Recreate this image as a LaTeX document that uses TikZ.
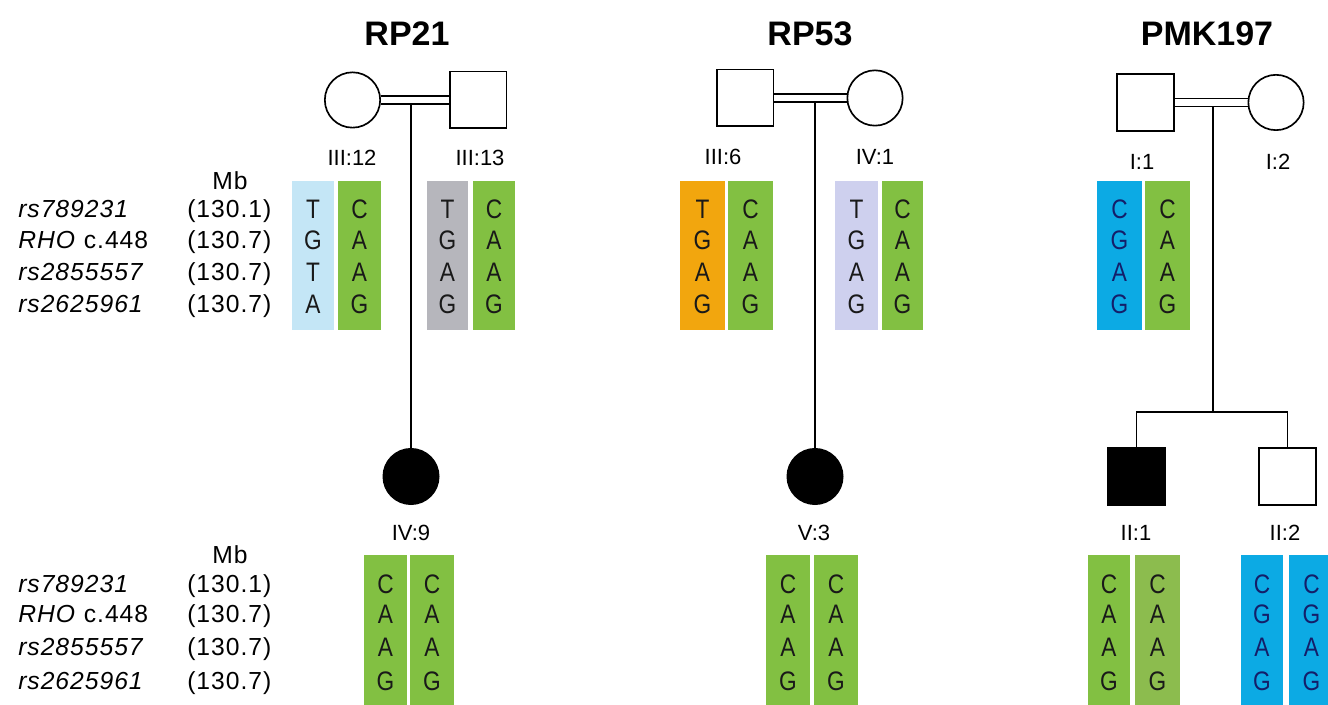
\documentclass[tikz,border=0pt]{standalone}
\usepackage{fontspec}
\setmainfont{Liberation Sans}
\definecolor{hapgreen}{RGB}{130,192,66}
\definecolor{hapgreenb}{RGB}{140,188,78}
\definecolor{hapsky}{RGB}{196,230,246}
\definecolor{hapgrey}{RGB}{182,182,188}
\definecolor{haporange}{RGB}{242,166,14}
\definecolor{haplilac}{RGB}{206,208,238}
\definecolor{hapblue}{RGB}{12,170,228}
\definecolor{allelenavy}{RGB}{20,30,105}
\definecolor{alleleink}{RGB}{25,25,25}
\newcommand{\tallglyph}[1]{\scalebox{1}[1.18]{#1}}
\tikzset{
  fem/.style={circle,draw,line width=1.25pt,minimum size=41.5pt,inner sep=0pt},
  mal/.style={rectangle,draw,line width=1.25pt,minimum size=42.5pt,inner sep=0pt},
  aff/.style={fill=black},
  link/.style={line width=1.25pt},
  famtitle/.style={font=\fontsize{25.5}{28}\selectfont\bfseries,anchor=base,inner sep=0pt},
  idlab/.style={font=\fontsize{16.5}{18}\selectfont,anchor=base,inner sep=0pt},
  allele/.style={font=\fontsize{17}{19}\selectfont,anchor=base,inner sep=0pt},
  rowlab/.style={font=\fontsize{18.5}{20}\selectfont\addfontfeature{LetterSpace=4},anchor=base west,inner sep=0pt},
  mblab/.style={font=\fontsize{18.5}{20}\selectfont\addfontfeature{LetterSpace=4},anchor=base,inner sep=0pt},
}
\begin{document}
\begin{tikzpicture}[x=0.75pt,y=-0.75pt]
\useasboundingbox[fill=white] (0,0) rectangle (1328,705);

% ---------- family titles ----------
\node[famtitle] (t21) at (407,46) {RP21};
\node[famtitle] (t53) at (810,46) {RP53};
\node[famtitle] (t197) at (1207,46) {PMK197};

% ---------- haplotype bars, upper generation ----------
\foreach \nm/\col/\xa/\xb/\ink/\la/\lb/\lc/\ld in {
  a/hapsky/292/334/alleleink/T/G/T/A,
  b/hapgreen/338/381/alleleink/C/A/A/G,
  c/hapgrey/427/468/alleleink/T/G/A/G,
  d/hapgreen/473/515/alleleink/C/A/A/G,
  e/haporange/680/725/alleleink/T/G/A/G,
  f/hapgreen/728/773/alleleink/C/A/A/G,
  g/haplilac/835/878/alleleink/T/G/A/G,
  h/hapgreen/882/923/alleleink/C/A/A/G,
  i/hapblue/1097/1142/allelenavy/C/G/A/G,
  j/hapgreen/1145/1190/alleleink/C/A/A/G}
{
  \fill[\col] (\xa,181) rectangle (\xb,330);
  \node[allele,text=\ink] (u\nm1) at ({(\xa+\xb)/2},219) {\tallglyph{\la}};
  \node[allele,text=\ink] (u\nm2) at ({(\xa+\xb)/2},250) {\tallglyph{\lb}};
  \node[allele,text=\ink] (u\nm3) at ({(\xa+\xb)/2},282) {\tallglyph{\lc}};
  \node[allele,text=\ink] (u\nm4) at ({(\xa+\xb)/2},314) {\tallglyph{\ld}};
}

% ---------- haplotype bars, lower generation ----------
\foreach \nm/\col/\xa/\xb/\ink/\la/\lb/\lc/\ld in {
  a/hapgreen/364/407/alleleink/C/A/A/G,
  b/hapgreen/410/454/alleleink/C/A/A/G,
  c/hapgreen/766/810/alleleink/C/A/A/G,
  d/hapgreen/814/858/alleleink/C/A/A/G,
  e/hapgreen/1088/1130/alleleink/C/A/A/G,
  f/hapgreenb/1135/1180/alleleink/C/A/A/G,
  g/hapblue/1241/1283/allelenavy/C/G/A/G,
  h/hapblue/1289/1334/allelenavy/C/G/A/G}
{
  \fill[\col] (\xa,555) rectangle (\xb,705);
  \node[allele,text=\ink] (l\nm1) at ({(\xa+\xb)/2},593) {\tallglyph{\la}};
  \node[allele,text=\ink] (l\nm2) at ({(\xa+\xb)/2},623) {\tallglyph{\lb}};
  \node[allele,text=\ink] (l\nm3) at ({(\xa+\xb)/2},656) {\tallglyph{\lc}};
  \node[allele,text=\ink] (l\nm4) at ({(\xa+\xb)/2},690) {\tallglyph{\ld}};
}

% ---------- marker names and positions ----------
\node[mblab] (mbu) at (230,190) {Mb};
\node[rowlab] (nu1) at (18,218) {\textit{rs789231}};
\node[rowlab] (nu2) at (18,249) {\textit{RHO} c.448};
\node[rowlab] (nu3) at (18,281) {\textit{rs2855557}};
\node[rowlab] (nu4) at (18,313) {\textit{rs2625961}};
\node[rowlab] (pu1) at (187,218) {(130.1)};
\node[rowlab] (pu2) at (187,249) {(130.7)};
\node[rowlab] (pu3) at (187,281) {(130.7)};
\node[rowlab] (pu4) at (187,313) {(130.7)};

\node[mblab] (mbl) at (230,563) {Mb};
\node[rowlab] (nl1) at (18,592) {\textit{rs789231}};
\node[rowlab] (nl2) at (18,622) {\textit{RHO} c.448};
\node[rowlab] (nl3) at (18,655) {\textit{rs2855557}};
\node[rowlab] (nl4) at (18,689) {\textit{rs2625961}};
\node[rowlab] (pl1) at (187,592) {(130.1)};
\node[rowlab] (pl2) at (187,622) {(130.7)};
\node[rowlab] (pl3) at (187,655) {(130.7)};
\node[rowlab] (pl4) at (187,689) {(130.7)};

% ---------- pedigree RP21 ----------
\node[fem] (r21m) at (352.5,100) {};
\node[mal] (r21f) at (478,100) {};
\draw[link] ([yshift=3pt]r21m.east) -- ([yshift=3pt]r21f.west);
\draw[link] ([yshift=-3pt]r21m.east) -- ([yshift=-3pt]r21f.west);
\coordinate (r21j) at (411,104);
\node[fem,aff] (r21c) at (411,476.5) {};
\draw[link] (r21j) -- (r21c);
\node[idlab] (r21mid) at (352,166) {III:12};
\node[idlab] (r21fid) at (480,166) {III:13};
\node[idlab] (r21cid) at (411,541) {IV:9};

% ---------- pedigree RP53 ----------
\node[mal] (r53f) at (745,98) {};
\node[fem] (r53m) at (875,98) {};
\draw[link] ([yshift=3pt]r53f.east) -- ([yshift=3pt]r53m.west);
\draw[link] ([yshift=-3pt]r53f.east) -- ([yshift=-3pt]r53m.west);
\coordinate (r53j) at (815,102);
\node[fem,aff] (r53c) at (815,476.5) {};
\draw[link] (r53j) -- (r53c);
\node[idlab] (r53fid) at (723,165) {III:6};
\node[idlab] (r53mid) at (875,165) {IV:1};
\node[idlab] (r53cid) at (814,541) {V:3};

% ---------- pedigree PMK197 ----------
\node[mal] (pkf) at (1145.5,102.5) {};
\node[fem] (pkm) at (1276,102.5) {};
\draw[link] ([yshift=3pt]pkf.east) -- ([yshift=3pt]pkm.west);
\draw[link] ([yshift=-3pt]pkf.east) -- ([yshift=-3pt]pkm.west);
\coordinate (pkj) at (1213,106.5);
\coordinate (pks) at (1213,412);
\node[mal,aff] (pkc1) at (1136.5,476.5) {};
\node[mal] (pkc2) at (1287.5,476.5) {};
\draw[link] (pkj) -- (pks);
\draw[link] (pkc1.north) |- (pks) -| (pkc2.north);
\node[idlab] (pkfid) at (1142,170) {I:1};
\node[idlab] (pkmid) at (1278,170) {I:2};
\node[idlab] (pkc1id) at (1136,541) {II:1};
\node[idlab] (pkc2id) at (1285,541) {II:2};
\end{tikzpicture}
\end{document}
